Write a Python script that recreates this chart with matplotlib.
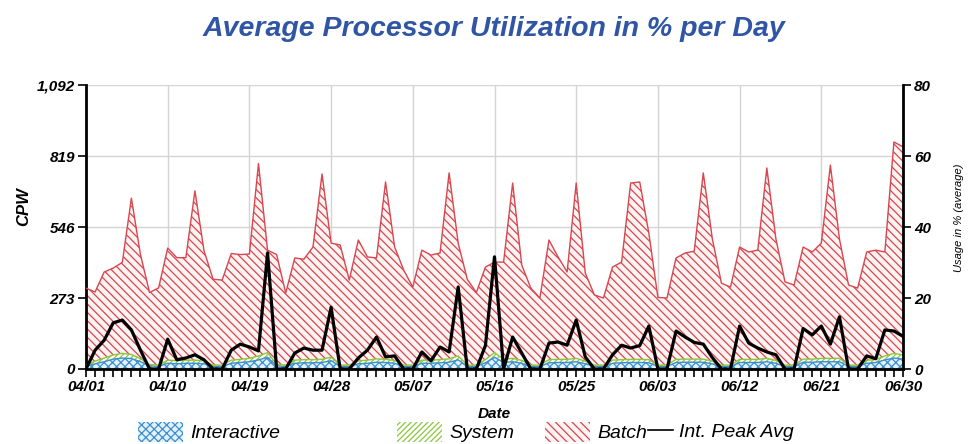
import matplotlib
matplotlib.use("Agg")
import matplotlib.pyplot as plt
from matplotlib.patches import Patch
from matplotlib.lines import Line2D
from matplotlib.ticker import MultipleLocator

# daily values 04/01 .. 06/30
# total height of the stack (CPW)
total = [311, 296, 373, 388, 410, 657, 440, 294, 312, 465,
         428, 428, 685, 455, 345, 342, 444, 440, 442, 790,
         457, 440, 292, 427, 422, 469, 750, 484, 477, 342,
         496, 431, 427, 719, 469, 380, 315, 457, 438, 446,
         754, 484, 345, 294, 392, 411, 411, 715, 400, 311,
         273, 496, 431, 373, 715, 369, 285, 273, 392, 411,
         715, 719, 523, 275, 273, 427, 446, 453, 754, 500,
         330, 315, 469, 450, 457, 773, 500, 335, 323, 469,
         450, 484, 784, 500, 323, 311, 450, 457, 450, 873,
         854]

interactive = [10, 20, 28, 38, 42, 40, 28, 12, 10, 22,
               20, 22, 22, 20, 10, 10, 22, 25, 28, 35,
               45, 12, 10, 22, 24, 24, 25, 32, 10, 10,
               20, 22, 26, 25, 22, 10, 10, 22, 22, 24,
               26, 35, 10, 10, 24, 45, 25, 28, 22, 10,
               10, 24, 25, 25, 28, 20, 10, 10, 22, 24,
               25, 25, 24, 10, 10, 25, 26, 26, 26, 20,
               10, 10, 25, 25, 25, 28, 22, 10, 10, 26,
               26, 28, 28, 28, 10, 10, 22, 25, 35, 42,
               38]

system = [5, 10, 14, 16, 18, 16, 12, 5, 5, 12,
          12, 12, 12, 11, 5, 5, 12, 12, 13, 15,
          18, 6, 5, 12, 12, 12, 12, 14, 5, 5,
          11, 12, 13, 12, 11, 5, 5, 12, 12, 12,
          13, 15, 5, 5, 12, 18, 12, 13, 11, 5,
          5, 12, 12, 12, 13, 10, 5, 5, 12, 12,
          12, 12, 12, 5, 5, 12, 12, 12, 12, 10,
          5, 5, 12, 12, 12, 13, 11, 5, 5, 12,
          12, 13, 13, 13, 5, 5, 11, 12, 15, 18,
          16]

# Int. Peak Avg in % (right axis)
peak_avg = [0, 5.3, 8.1, 13.0, 13.8, 11.0, 5.3, 0, 0, 8.4,
            2.6, 3.1, 4.0, 2.6, 0, 0, 5.3, 7.0, 6.2, 5.1,
            32.7, 0, 0, 4.5, 5.9, 5.3, 5.3, 17.4, 0, 0,
            3.1, 5.3, 9.0, 3.4, 3.7, 0, 0, 4.8, 2.3, 6.2,
            4.8, 23.1, 0, 0, 6.6, 31.6, 0, 9.0, 4.5, 0,
            0, 7.3, 7.6, 6.7, 13.8, 3.4, 0, 0, 4.0, 6.7,
            5.9, 6.6, 12.1, 0, 0, 10.7, 9.0, 7.5, 7.0, 3.2,
            0, 0, 12.1, 7.3, 5.9, 4.8, 4.0, 0, 0, 11.4,
            9.6, 12.1, 7.0, 14.7, 0, 0, 3.7, 2.9, 11.0, 10.7,
            9.2]

date_labels = ["04/01", "04/10", "04/19", "04/28", "05/07", "05/16",
               "05/25", "06/03", "06/12", "06/21", "06/30"]
cpw_ticks = [0, 273, 546, 819, 1092]
cpw_labels = ["0", "273", "546", "819", "1,092"]
pct_ticks = [0, 20, 40, 60, 80]

days = list(range(len(total)))
lo_sys = interactive
hi_sys = [a + b for a, b in zip(interactive, system)]

plt.rcParams['hatch.linewidth'] = 0.9
tick_font = dict(family='Liberation Sans', weight='bold', style='italic', size=11)

fig = plt.figure(figsize=(9.73, 4.44), dpi=100)
ax = fig.add_axes([86 / 973, 1 - 369 / 444, 817 / 973, 284 / 444])

blue = '#3b8fd0'
green = '#8cc63e'
red = '#d8464e'
h_int, h_sys, h_bat = 'xxxx', '//////', '\\\\\\\\'

ax.fill_between(days, 0, interactive, facecolor='#e3f1fb', edgecolor=blue,
                hatch=h_int, linewidth=0, zorder=2)
ax.fill_between(days, lo_sys, hi_sys, facecolor='white', edgecolor=green,
                hatch=h_sys, linewidth=0, zorder=2)
ax.fill_between(days, hi_sys, total, facecolor='#fdf3f3', edgecolor=red,
                hatch=h_bat, linewidth=0, zorder=2)
ax.plot(days, interactive, color=blue, lw=1, zorder=3)
ax.plot(days, hi_sys, color=green, lw=1, zorder=3)
ax.plot(days, total, color=red, lw=1, zorder=3)

ax.set_xlim(0, len(total) - 1)
ax.set_ylim(0, 1092)
ax.set_xticks(range(0, len(total), 9))
ax.set_xticklabels(date_labels, fontdict=tick_font)
ax.xaxis.set_minor_locator(MultipleLocator(1))
ax.set_yticks(cpw_ticks)
ax.set_yticklabels(cpw_labels, fontdict=tick_font)
ax.tick_params(axis='both', which='major', length=6, width=1.2, direction='out', pad=2)
ax.tick_params(axis='x', which='minor', length=6, width=1.2, direction='out')
ax.grid(True, which='major', color='#d4d4d4', lw=1)
ax.set_axisbelow(True)
for s in ['left', 'bottom']:
    ax.spines[s].set_linewidth(2)
ax.spines['top'].set_visible(False)
ax.spines['right'].set_visible(False)

ax2 = ax.twinx()
ax2.plot(days, peak_avg, color='black', lw=2.3, zorder=4)
ax2.set_ylim(0, 80)
ax2.set_yticks(pct_ticks)
ax2.set_yticklabels([str(t) for t in pct_ticks], fontdict=tick_font)
ax2.tick_params(axis='y', length=6, width=1.2, pad=2)
ax2.spines['right'].set_linewidth(2)
ax2.spines['top'].set_visible(False)
ax2.spines['left'].set_visible(False)
ax2.spines['bottom'].set_visible(False)

fig.text(0.508, 0.935, "Average Processor Utilization in % per Day",
         ha='center', va='center', color='#2f55a4', fontsize=20.5,
         family='Liberation Sans', weight='bold', style='italic')
fig.text(0.024, 0.535, "CPW", rotation=90, ha='center', va='center',
         family='Liberation Sans', weight='bold', style='italic', size=12)
fig.text(0.986, 0.51, "Usage in % (average)", rotation=90, ha='center',
         va='center', fontsize=8, style='italic', family='Liberation Sans')
fig.text(0.508, 0.067, "Date", ha='center', va='center', fontdict=tick_font)

leg_font = dict(family='Liberation Sans', style='italic', size=14)
items = [
    (Patch(facecolor='#e3f1fb', edgecolor=blue, hatch=h_int, lw=0), "Interactive", 138),
    (Patch(facecolor='white', edgecolor=green, hatch=h_sys, lw=0), "System", 397),
    (Patch(facecolor='#fdf3f3', edgecolor=red, hatch=h_bat, lw=0), "Batch", 545),
]
for h, lab, px in items:
    fig.legend(handles=[h], labels=[lab], loc='center left',
               bbox_to_anchor=(px / 973, 0.027), frameon=False,
               borderpad=0, borderaxespad=0, handlelength=2.3,
               handleheight=1.25, handletextpad=0.4, prop=leg_font)
fig.legend(handles=[Line2D([0], [0], color='black', lw=1.2)],
           labels=["Int. Peak Avg"], loc='center left',
           bbox_to_anchor=(648 / 973, 0.027), frameon=False,
           borderpad=0, borderaxespad=0, handlelength=1.3,
           handletextpad=0.3, prop=leg_font)

fig.savefig("out.png", dpi=100)
